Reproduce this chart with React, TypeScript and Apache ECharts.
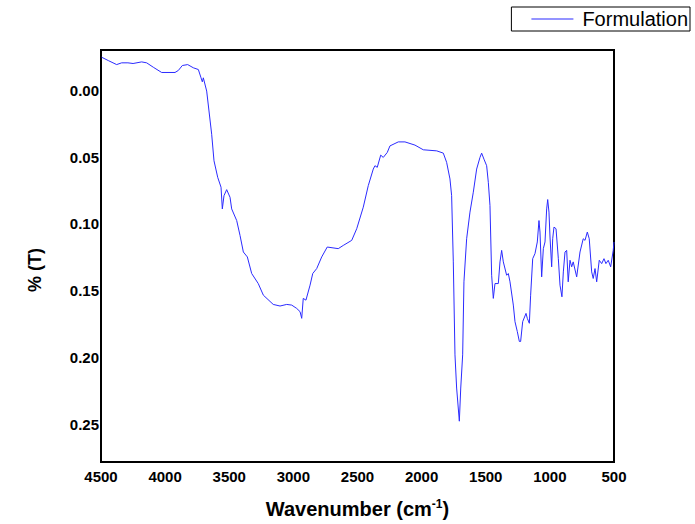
import React, { useEffect, useRef } from "react";
import * as echarts from "echarts";

const wavenumbers = [
  4495, 4443, 4378, 4339, 4290, 4250, 4183, 4144, 4092, 4027, 3923, 3897, 3866, 3824, 3780, 3741, 3720, 3710, 3702, 3676,
  3658, 3637, 3619, 3590, 3564, 3554, 3541, 3520, 3494, 3481, 3442, 3416, 3390, 3359, 3325, 3274, 3234, 3157, 3104, 3052,
  3013, 2974, 2948, 2935, 2923, 2902, 2870, 2849, 2818, 2779, 2736, 2650, 2611, 2545, 2506, 2455, 2416, 2377, 2364, 2346,
  2319, 2299, 2268, 2247, 2182, 2130, 2052, 1987, 1882, 1831, 1805, 1779, 1766, 1753, 1740, 1727, 1706, 1695, 1680, 1670,
  1649, 1623, 1597, 1571, 1545, 1532, 1514, 1493, 1480, 1467, 1454, 1441, 1428, 1402, 1389, 1376, 1363, 1337, 1324, 1311,
  1285, 1272, 1254, 1238, 1228, 1212, 1186, 1176, 1160, 1150, 1134, 1116, 1098, 1085, 1077, 1064, 1051, 1038, 1025, 1017,
  1007, 999, 986, 978, 968, 952, 934, 921, 906, 895, 882, 869, 857, 843, 830, 818, 791, 765, 740, 726,
  708, 693, 674, 662, 648, 635, 615, 596, 578, 563, 545, 526, 506, 500,
];

const transmittance = [
  -0.0246, -0.0221, -0.0191, -0.0204, -0.0204, -0.0199, -0.0211, -0.0204, -0.0171, -0.0132, -0.0132, -0.0147, -0.0184, -0.0191, -0.0167, -0.0154, -0.0092, -0.0062, -0.0092, 0.0007,
  0.0156, 0.033, 0.0528, 0.0652, 0.0726, 0.0888, 0.0789, 0.0744, 0.0801, 0.0888, 0.0975, 0.1086, 0.121, 0.1247, 0.1371, 0.1446, 0.1533, 0.1602, 0.1614, 0.1602,
  0.1607, 0.1632, 0.1656, 0.1706, 0.1557, 0.157, 0.1458, 0.1371, 0.1334, 0.1247, 0.1173, 0.1185, 0.1161, 0.1123, 0.1036, 0.0875, 0.0714, 0.059, 0.0565, 0.0577,
  0.0486, 0.0503, 0.0466, 0.0417, 0.0387, 0.0387, 0.0411, 0.0446, 0.0454, 0.0471, 0.054, 0.0664, 0.0789, 0.1284, 0.1979, 0.2227, 0.2475, 0.2227, 0.1979, 0.1433,
  0.1111, 0.0912, 0.0763, 0.059, 0.0503, 0.0471, 0.0516, 0.0565, 0.0689, 0.0863, 0.1384, 0.1557, 0.1446, 0.1446, 0.1284, 0.1198, 0.1284, 0.1384, 0.1371, 0.1433,
  0.1607, 0.1731, 0.1805, 0.1879, 0.1879, 0.1731, 0.1669, 0.1706, 0.1743, 0.1533, 0.126, 0.1222, 0.1135, 0.0975, 0.1061, 0.1396, 0.1185, 0.1135, 0.0888, 0.0818,
  0.0912, 0.1098, 0.1321, 0.1111, 0.1024, 0.1036, 0.126, 0.1458, 0.1545, 0.1359, 0.121, 0.1198, 0.1433, 0.1272, 0.1321, 0.1284, 0.1396, 0.121, 0.1111, 0.1123,
  0.1061, 0.1111, 0.1359, 0.1408, 0.1334, 0.1433, 0.1272, 0.1297, 0.126, 0.1297, 0.1272, 0.1321, 0.1198, 0.1135,
];

const yTicks = [0, 0.05, 0.1, 0.15, 0.2, 0.25];
const seriesName = "Formulation";

const FONT = "'Liberation Sans', Arial, sans-serif";
const LINE_COLOR = "#2b2bff";

export default function App() {
  const ref = useRef<HTMLDivElement>(null);

  useEffect(() => {
    if (!ref.current) return;
    const chart = echarts.init(ref.current, null, { renderer: "svg" });
    const data = wavenumbers.map((w, i) => [w, transmittance[i]]);
    chart.setOption({
      animation: false,
      backgroundColor: "#fff",
      textStyle: { fontFamily: FONT },
      grid: {
        left: 101,
        right: 81,
        top: 50,
        bottom: 60,
        show: true,
        borderColor: "#000",
        borderWidth: 2,
        backgroundColor: "transparent",
      },
      legend: {
        data: [{ name: seriesName, icon: "rect" }],
        right: 5,
        top: 7,
        borderColor: "#000",
        borderWidth: 1,
        borderRadius: 0,
        padding: [2, 2, 2, 20],
        itemWidth: 42,
        itemHeight: 1,
        textStyle: { fontFamily: FONT, fontSize: 20, color: "#000", padding: [0, 0, 0, 4] },
      },
      xAxis: {
        type: "value",
        min: 500,
        max: 4500,
        interval: 500,
        inverse: true,
        axisLine: { show: false },
        axisTick: { show: false },
        splitLine: { show: false },
        axisLabel: {
          margin: 7,
          fontFamily: FONT,
          fontSize: 15,
          fontWeight: "bold",
          color: "#000",
          showMinLabel: true,
          showMaxLabel: true,
          formatter: (v: number) => String(v),
        },
        name: "{a|Wavenumber (cm}{s|-1}{a|)}",
        nameLocation: "middle",
        nameGap: 36,
        nameTextStyle: {
          rich: {
            a: { fontFamily: FONT, fontSize: 20, fontWeight: "bold", color: "#000" },
            s: { fontFamily: FONT, fontSize: 12, fontWeight: "bold", color: "#000", verticalAlign: "top", padding: [0, 0, 10, 0] },
          },
        },
      },
      yAxis: {
        type: "value",
        min: -0.03,
        max: 0.278,
        inverse: true,
        axisLine: { show: false },
        axisTick: { show: false },
        splitLine: { show: false },
        axisLabel: {
          customValues: yTicks,
          margin: 2,
          fontFamily: FONT,
          fontSize: 15,
          fontWeight: "bold",
          color: "#000",
          formatter: (v: number) => v.toFixed(2),
        },
      },
      graphic: [
        {
          type: "text",
          x: 35,
          y: 270,
          rotation: Math.PI / 2,
          style: {
            text: "% (T)",
            fontFamily: FONT,
            fontSize: 18,
            fontWeight: "bold",
            fill: "#000",
            align: "center",
            verticalAlign: "middle",
          },
        },
      ],
      series: [
        {
          name: seriesName,
          type: "line",
          data,
          symbol: "none",
          lineStyle: { color: LINE_COLOR, width: 1 },
          itemStyle: { color: LINE_COLOR },
        },
      ],
    });
    return () => chart.dispose();
  }, []);

  return (
    <div
      ref={ref}
      style={{ position: "absolute", left: 0, top: 0, width: 695, height: 524 }}
    />
  );
}
